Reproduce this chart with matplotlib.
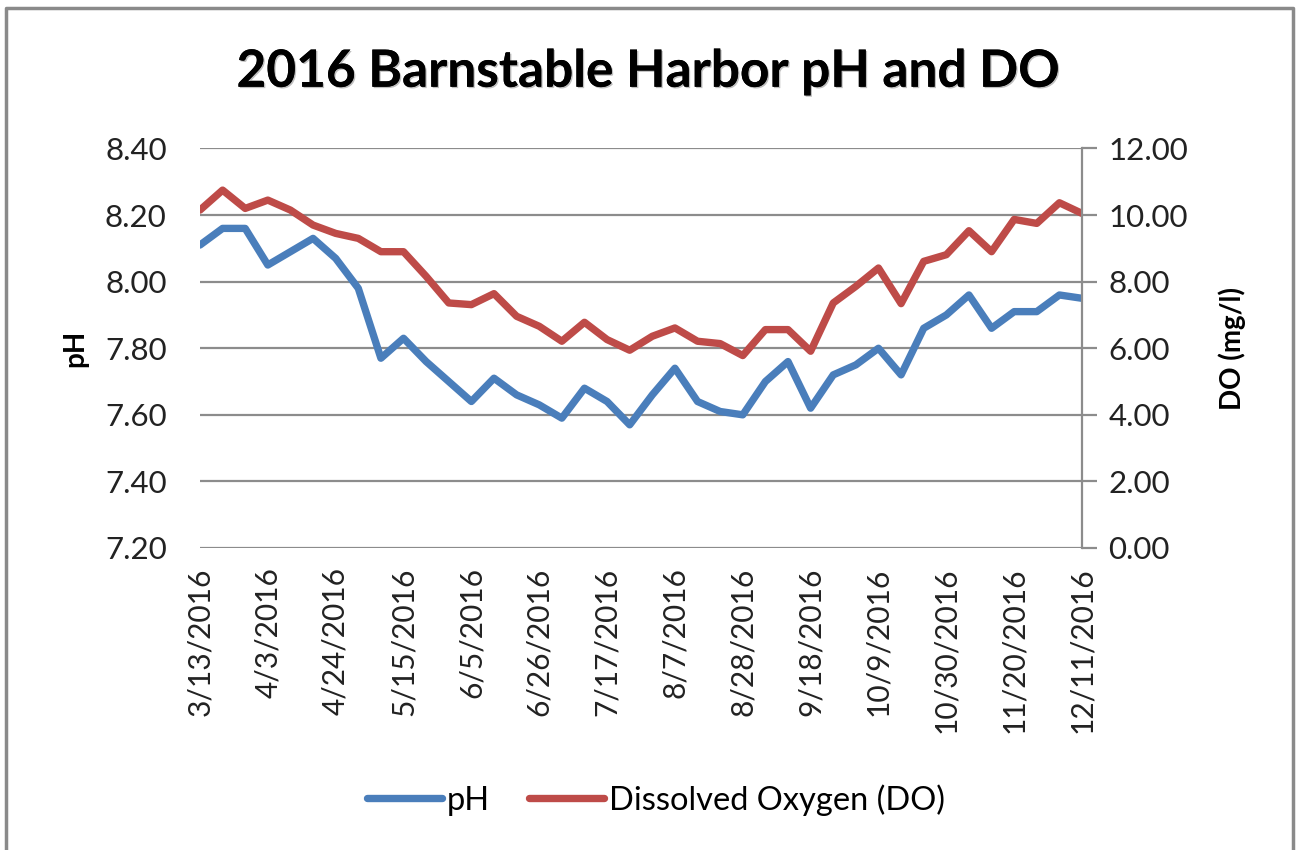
import matplotlib
matplotlib.use('Agg')
import matplotlib.pyplot as plt
import matplotlib.patheffects as pe
from matplotlib.lines import Line2D
import pandas as pd

plt.rcParams['font.family'] = ['Lato', 'DejaVu Sans']

dates = pd.date_range('2016-03-13', periods=40, freq='7D')

ph = [8.11, 8.16, 8.16, 8.05, 8.09, 8.13, 8.07, 7.98, 7.77, 7.83,
      7.76, 7.70, 7.64, 7.71, 7.66, 7.63, 7.59, 7.68, 7.64, 7.57,
      7.66, 7.74, 7.64, 7.61, 7.60, 7.70, 7.76, 7.62, 7.72, 7.75,
      7.80, 7.72, 7.86, 7.90, 7.96, 7.86, 7.91, 7.91, 7.96, 7.95]

do = [10.15, 10.75, 10.20, 10.45, 10.15, 9.70, 9.45, 9.30, 8.90, 8.90,
      8.16, 7.36, 7.31, 7.64, 6.96, 6.66, 6.21, 6.78, 6.26, 5.94,
      6.36, 6.61, 6.21, 6.14, 5.78, 6.56, 6.56, 5.91, 7.36, 7.86,
      8.41, 7.34, 8.61, 8.81, 9.53, 8.90, 9.87, 9.75, 10.37, 10.05]

ph_ticks = [7.20, 7.40, 7.60, 7.80, 8.00, 8.20, 8.40]
do_ticks = [0, 2, 4, 6, 8, 10, 12]

blue = '#4A7EBB'
red = '#BE4B48'
grid = '#8C8C8C'


def main():
    fig = plt.figure(figsize=(12.96, 8.5), dpi=100)
    ax = fig.add_axes([0.1543, 0.3553, 0.6806, 0.47])
    ax2 = ax.twinx()

    ax.set_ylim(7.2, 8.4)
    ax.set_yticks(ph_ticks)
    ax.set_yticklabels([f'{v:.2f}' for v in ph_ticks])
    ax2.set_ylim(0, 12)
    ax2.set_yticks(do_ticks)
    ax2.set_yticklabels([f'{v:.2f}' for v in do_ticks])

    ax.grid(axis='y', color=grid, linewidth=1.6)
    ax.set_axisbelow(True)
    ax.set_xlim(dates[0], dates[-1])
    ticks = dates[::3]
    ax.set_xticks(ticks)
    ax.set_xticklabels([f'{d.month}/{d.day}/{d.year}' for d in ticks],
                       rotation=90)

    l1, = ax2.plot(dates, ph_scaled(), color=blue, linewidth=5.3,
                   solid_capstyle='round', label='pH')
    l2, = ax2.plot(dates, do, color=red, linewidth=5.3,
                   solid_capstyle='round', label='Dissolved Oxygen (DO)')

    for a in (ax, ax2):
        for s in a.spines.values():
            s.set_visible(False)
    ax2.spines['right'].set_visible(True)
    ax2.spines['right'].set_color(grid)
    ax2.spines['right'].set_linewidth(1.6)

    ax.tick_params(axis='y', length=0, labelsize=22.5, pad=24, colors='#222222')
    ax.tick_params(axis='x', length=0, labelsize=21.5, pad=14, colors='#222222')
    ax2.tick_params(axis='y', length=11, width=1.6, color=grid,
                    labelsize=22.5, pad=8, labelcolor='#222222')

    ax.set_ylabel('pH', fontsize=20, fontweight='bold', labelpad=12)
    ax2.set_ylabel('DO (mg/l)', fontsize=20, fontweight='bold', labelpad=22)

    fig.text(0.5, 0.915, '2016 Barnstable Harbor pH and DO', ha='center',
             va='center', fontsize=37, fontweight='bold',
             path_effects=[pe.withSimplePatchShadow(offset=(1, -1),
                                                    alpha=0.25),
                           pe.Normal()])

    fig.legend(handles=[l1, l2], loc='center', bbox_to_anchor=(0.506, 0.059),
               ncol=2, frameon=False, fontsize=23.5, handlelength=2.3,
               handletextpad=0.15, columnspacing=1.2)

    fig.add_artist(Line2D([0.005, 0.005, 0.998, 0.998],
                          [0.0, 0.9906, 0.9906, 0.0],
                          transform=fig.transFigure, color='#8A8A8A',
                          linewidth=2.5))

    fig.savefig('out.png', dpi=100, facecolor='white')


def ph_scaled():
    # pH drawn on the DO axis scale so it can share the same twin axes
    return [(v - 7.2) * 10 for v in ph]


if __name__ == '__main__':
    main()
